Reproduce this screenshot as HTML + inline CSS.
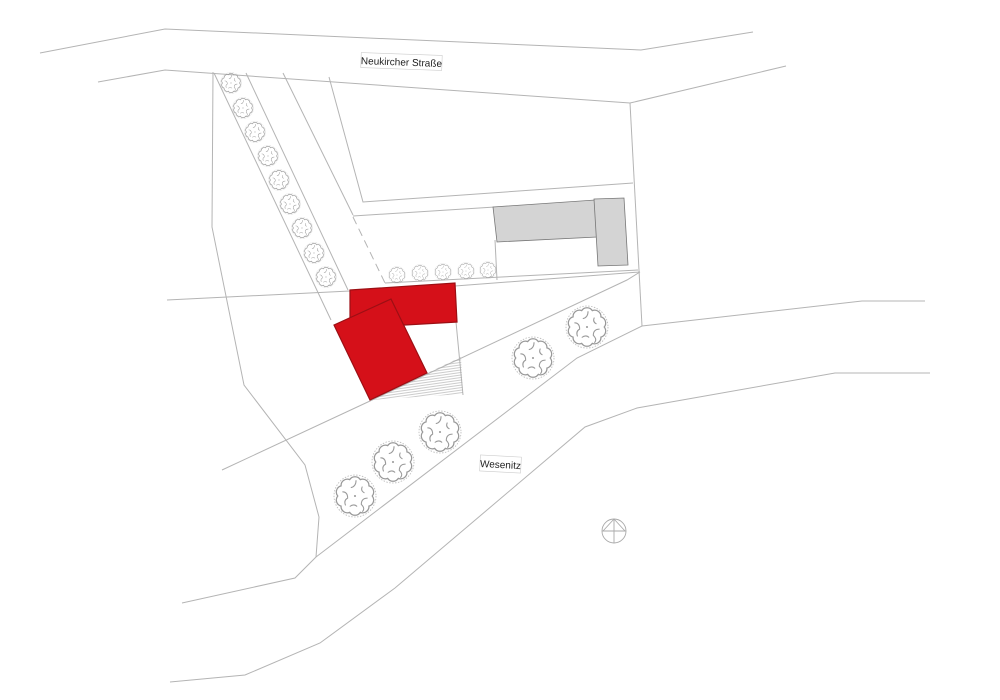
<!DOCTYPE html>
<html><head><meta charset="utf-8"><style>
html,body{margin:0;padding:0;background:#fff;}
svg{display:block;}
text{font-family:"Liberation Sans",sans-serif;}
</style></head><body>
<svg width="1000" height="700" viewBox="0 0 1000 700" xmlns="http://www.w3.org/2000/svg">
<defs>
<g id="tree">
<circle r="1" fill="none" stroke="#bbb" stroke-width="0.04" stroke-dasharray="0.07 0.07"/>
<path d="M0.82,0 A0.3,0.3 0 0 1 0.663,0.482 A0.3,0.3 0 0 1 0.253,0.78 A0.3,0.3 0 0 1 -0.253,0.78 A0.3,0.3 0 0 1 -0.663,0.482 A0.3,0.3 0 0 1 -0.82,0 A0.3,0.3 0 0 1 -0.663,-0.482 A0.3,0.3 0 0 1 -0.253,-0.78 A0.3,0.3 0 0 1 0.253,-0.78 A0.3,0.3 0 0 1 0.663,-0.482 A0.3,0.3 0 0 1 0.82,0 Z" fill="none" stroke="#999" stroke-width="0.06"/>
<path d="M-0.6,-0.2 q0.25,0 0.25,0.3 q-0.2,0.1 -0.1,0.35 M0.05,-0.75 q0,0.3 -0.25,0.35 M0.6,0.1 q-0.3,0 -0.3,0.3 q0.2,0.2 0.05,0.35 M-0.25,0.5 q0.2,-0.15 0.35,0 M0.35,-0.45 q-0.1,0.2 0.1,0.3" fill="none" stroke="#999" stroke-width="0.05"/>
<circle r="0.05" fill="#999"/>
</g>
<pattern id="hatch" width="4" height="2.5" patternUnits="userSpaceOnUse" patternTransform="rotate(-8)">
<line x1="0" y1="0.5" x2="4" y2="0.5" stroke="#aaa" stroke-width="0.6"/>
</pattern>
</defs>
<g fill="none" stroke="#b4b4b4" stroke-width="1">
<polyline points="40,53 165,29 641,50 753,32"/>
<polyline points="98,82 165,70 630,103 786,66"/>
<polyline points="213,72 212,227 244,385 305,465 319,517 316,557 295,578 182,603"/>
<polyline points="214,73 331,320"/>
<polyline points="246,73 348,290"/>
<polyline points="283,73 353,215"/>
<polyline points="329,77 363,202 633,183"/>
<polyline points="630,103 642,326"/>
<polyline points="353,216 495,207"/>
<line x1="353" y1="217" x2="385" y2="283" stroke-dasharray="8 5"/>
<polyline points="385,283 638,270"/>
<polyline points="495,240 497,280"/>
<polyline points="167,300 350,291"/>
<polyline points="455,286 640,272"/>
<polyline points="456,322 463,395"/>
<polyline points="222,470 370,401 627,280 640,272"/>
<polyline points="316,557 577,358 642,326 862,301 925,301"/>
<polyline points="170,682 245,675 320,643 395,588 585,427 637,408 835,373 930,373"/>
</g>
<polygon points="493,207 595,200 597,237 497,242" fill="#d4d4d4" stroke="#777" stroke-width="0.8"/>
<polygon points="594,199 624,198 628,265 598,266" fill="#d4d4d4" stroke="#777" stroke-width="0.8"/>
<polygon points="370,400 461,357 463,394" fill="url(#hatch)"/>
<polygon points="350,290 455,283 457,322 405,325 350,329" fill="#d51019" stroke="#9c0f14" stroke-width="1.2"/>
<polygon points="334,325 391,299 427,373 370,400" fill="#d51019" stroke="#9c0f14" stroke-width="1.2"/>
<g>
<use href="#tree" transform="translate(231,83) scale(10.5)"/>
<use href="#tree" transform="translate(243,108) scale(10.5)"/>
<use href="#tree" transform="translate(255,132) scale(10.5)"/>
<use href="#tree" transform="translate(268,156) scale(10.5)"/>
<use href="#tree" transform="translate(279,180) scale(10.5)"/>
<use href="#tree" transform="translate(290,204) scale(10.5)"/>
<use href="#tree" transform="translate(302,228) scale(10.5)"/>
<use href="#tree" transform="translate(314,253) scale(10.5)"/>
<use href="#tree" transform="translate(326,277) scale(10.5)"/>
<use href="#tree" transform="translate(397,275) scale(8.5)"/>
<use href="#tree" transform="translate(420,273) scale(8.5)"/>
<use href="#tree" transform="translate(443,272) scale(8.5)"/>
<use href="#tree" transform="translate(466,271) scale(8.5)"/>
<use href="#tree" transform="translate(488,270) scale(8.5)"/>
<use href="#tree" transform="translate(355,496) scale(21)"/>
<use href="#tree" transform="translate(393,462) scale(21)"/>
<use href="#tree" transform="translate(440,432) scale(21)"/>
<use href="#tree" transform="translate(533,358) scale(21)"/>
<use href="#tree" transform="translate(587,327) scale(21)"/>
</g>
<g fill="none" stroke="#aaa" stroke-width="0.9">
<circle cx="614" cy="531" r="12"/>
<line x1="614" y1="519" x2="614" y2="543"/>
<line x1="602" y1="531" x2="626" y2="531"/>
<polyline points="603,531 614,519 625,531"/>
</g>
<g transform="rotate(2 401 61)">
<rect x="361" y="54" width="81" height="15" fill="#fff" stroke="#ccc" stroke-width="0.6"/>
<text x="401.5" y="65.5" font-size="10" text-anchor="middle" fill="#222">Neukircher Straße</text>
</g>
<g transform="rotate(3 500 464)">
<rect x="480" y="456" width="41" height="16" fill="#fff" stroke="#ccc" stroke-width="0.6"/>
<text x="500.5" y="468" font-size="10" text-anchor="middle" fill="#222">Wesenitz</text>
</g>
</svg>
</body></html>
